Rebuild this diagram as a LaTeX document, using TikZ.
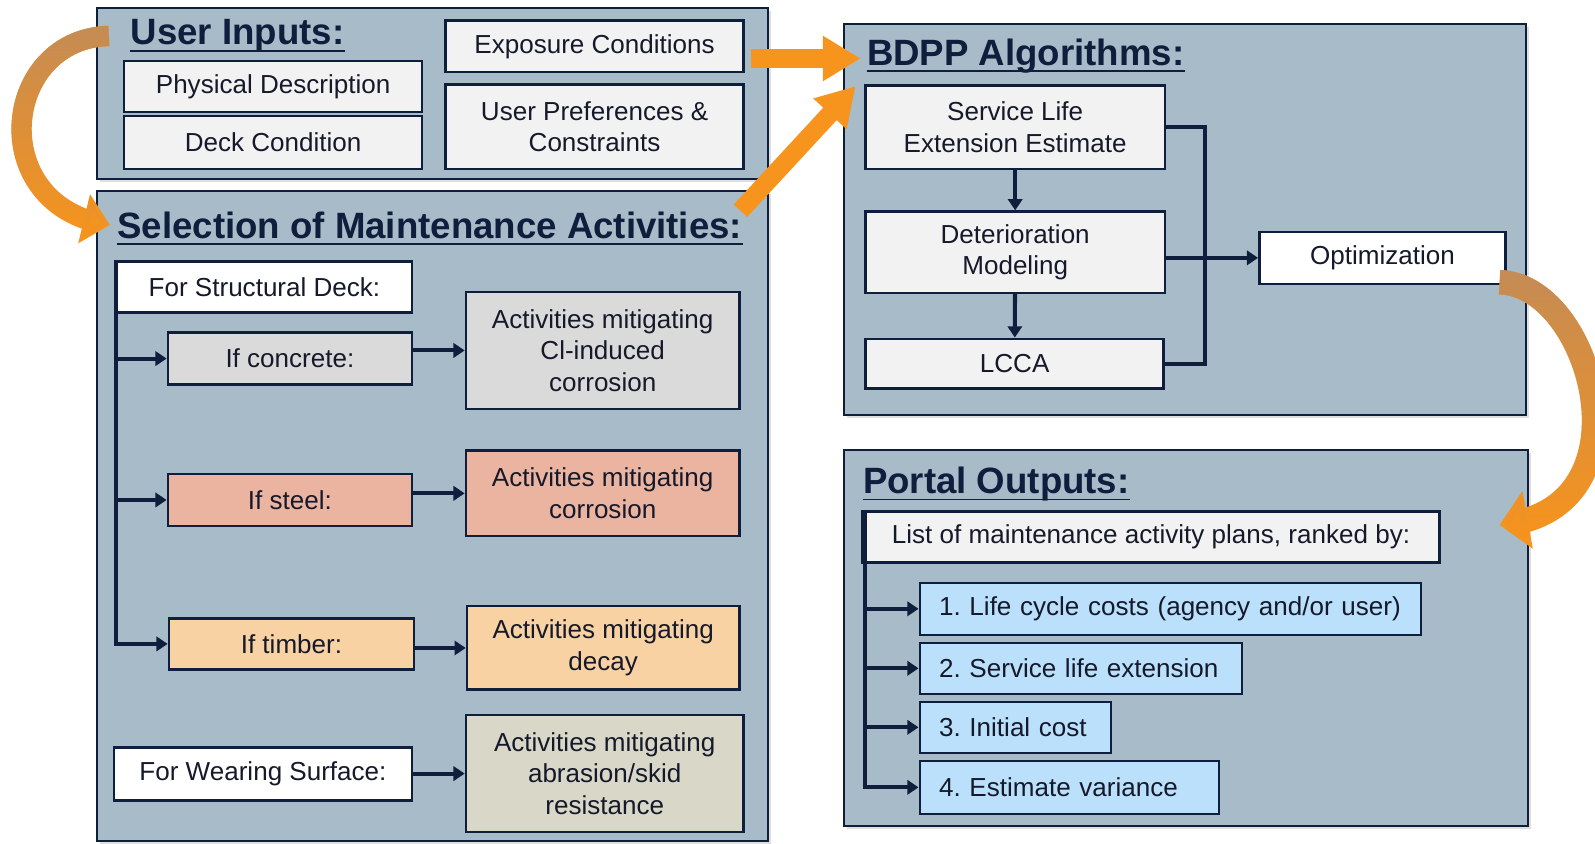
\documentclass[tikz,border=0pt]{standalone}
\usepackage{fontspec}
\setmainfont{Liberation Sans}
\usetikzlibrary{arrows.meta, bending, shadows, fadings}
\frenchspacing

\definecolor{navyc}{HTML}{0E1E3C}
\definecolor{textc}{HTML}{15192A}
\definecolor{panelc}{HTML}{A7BCC8}
\definecolor{boxc}{HTML}{F2F2F2}
\definecolor{concretec}{HTML}{DADADA}
\definecolor{steelc}{HTML}{EBB4A0}
\definecolor{timberc}{HTML}{F9D2A3}
\definecolor{wearc}{HTML}{D9D7C8}
\definecolor{itemc}{HTML}{BAE0FB}
\definecolor{orangec}{HTML}{F7941D}
\definecolor{brownc}{HTML}{C58C55}

\begin{document}
\begin{tikzpicture}[x=0.5pt, y=-0.5pt,
    panel/.style={draw=navyc, line width=1pt, fill=panelc, inner sep=0pt,
      drop shadow={opacity=0.25, shadow xshift=1.5pt, shadow yshift=-1.5pt}},
    title/.style={anchor=base west, inner sep=0pt, text=navyc,
      font=\fontsize{18pt}{20pt}\selectfont\bfseries},
    uline/.style={draw=navyc, line width=0.9pt},
    box/.style={draw=navyc, line width=1.2pt, fill=boxc, inner sep=0pt, align=center,
      text=textc, font=\fontsize{12.8pt}{15.5pt}\selectfont},
    wh/.style 2 args={minimum width=#1, minimum height=#2},
    item/.style={box, fill=itemc, anchor=west, inner xsep=9.5pt, text width=#1, align=left},
    bus/.style={draw=navyc, line width=2pt},
    tip/.style={-{Triangle[length=5.5pt,width=7pt]}},
    bigarrow/.style={draw=orangec, line width=#1},
    browntail/.style={postaction={draw=brownc, path fading=south}}
  ]
  \useasboundingbox (0,0) rectangle (1568,829);

  % Panels
  \node[panel, wh={330pt}{84pt}] (inpanel) at (425,92) {};
  \node[panel, wh={330pt}{319.5pt}] (selpanel) at (425,507.5) {};
  \node[panel, wh={335pt}{192pt}] (algpanel) at (1165,216) {};
  \node[panel, wh={336pt}{185pt}] (outpanel) at (1166,627) {};

  % Titles
  \node[title] (intitle) at (128,44) {User Inputs:};
  \node[title] (seltitle) at (115,234) {Selection of Maintenance Activities:};
  \node[title] (algtitle) at (852,64) {BDPP Algorithms:};
  \node[title] (outtitle) at (848,485) {Portal Outputs:};
  \foreach \t in {intitle,seltitle,algtitle,outtitle}
    \draw[uline] ([yshift=-3pt]\t.base west) -- ([yshift=-3pt]\t.base east);

  % User inputs
  \node[box, wh={146.5pt}{25pt}] (phys) at (268.5,85) {Physical Description};
  \node[box, wh={146.5pt}{26pt}] (deck) at (268.5,140) {Deck Condition};
  \node[box, wh={146.5pt}{25.5pt}] (expo) at (584.5,45.5) {Exposure Conditions};
  \node[box, wh={146.5pt}{41.5pt}] (pref) at (584.5,124.5) {User Preferences \&\\Constraints};

  % Selection of maintenance activities
  \node[box, fill=white, wh={145pt}{25pt}] (sdeck) at (260,282) {For Structural Deck:};
  \node[box, fill=concretec, wh={120pt}{25.5pt}] (concrete) at (285,352.5) {If concrete:};
  \node[box, fill=concretec, wh={134.5pt}{57.5pt}] (actcl) at (592.5,344.5) {Activities mitigating\\Cl-induced\\corrosion};
  \node[box, fill=steelc, wh={120pt}{25.5pt}] (steel) at (285,491.5) {If steel:};
  \node[box, fill=steelc, wh={134.5pt}{42pt}] (actcorr) at (592.5,485) {Activities mitigating\\corrosion};
  \node[box, fill=timberc, wh={120.5pt}{25pt}] (timber) at (286.5,633) {If timber:};
  \node[box, fill=timberc, wh={134pt}{41pt}] (actdecay) at (593,637) {Activities mitigating\\decay};
  \node[box, fill=white, wh={146.5pt}{26pt}] (wear) at (258.5,761) {For Wearing Surface:};
  \node[box, fill=wearc, wh={136.5pt}{57.5pt}] (actskid) at (594.5,760.5) {Activities mitigating\\abrasion/skid\\resistance};

  % BDPP algorithms
  \node[box, wh={147pt}{41pt}] (sle) at (998,125) {Service Life\\Extension Estimate};
  \node[box, wh={147pt}{40pt}] (det) at (998,248) {Deterioration\\Modeling};
  \node[box, wh={146.5pt}{24.5pt}] (lcca) at (997.5,357.5) {LCCA};
  \node[box, fill=white, wh={121pt}{25.5pt}] (opt) at (1359,253.5) {Optimization};

  % Portal outputs
  \node[box, wh={283.5pt}{25pt}] (list) at (1131.5,528) {List of maintenance activity plans, ranked by:};
  \node[item=227.5pt, minimum height=25.5pt] (rank1) at (903,598.5) {1. Life cycle costs (agency and/or user)};
  \node[item=139.5pt, minimum height=25pt] (rank2) at (903,657) {2. Service life extension};
  \node[item=75pt, minimum height=25pt] (rank3) at (903,715) {3. Initial cost};
  \node[item=128pt, minimum height=26pt] (rank4) at (903,774) {4. Estimate variance};

  % Connections, selection
  \draw[bus, tip] (sdeck.north west) |- (timber.west);
  \draw[bus, tip] (sdeck.south west) |- (concrete.west);
  \draw[bus, tip] (sdeck.south west) |- (steel.west);
  \draw[bus, tip] (concrete.east |- actcl.west) -- (actcl.west);
  \draw[bus, tip] (steel.east |- actcorr.west) -- (actcorr.west);
  \draw[bus, tip] (timber.east |- actdecay.west) -- (actdecay.west);
  \draw[bus, tip] (wear.east |- actskid.west) -- (actskid.west);

  % Connections, algorithms
  \draw[bus, tip] (sle) -- (det);
  \draw[bus, tip] (det) -- (lcca);
  \draw[bus] (sle.east) -- ++(38,0) |- (lcca.east);
  \draw[bus, tip] (det.east |- opt.west) -- (opt.west);

  % Connections, outputs
  \foreach \r in {rank1,rank2,rank3,rank4}
    \draw[bus, tip] ([xshift=2pt]list.north west) |- (\r.west);

  % Orange flow arrows
  \draw[bigarrow=10pt, browntail, -{Triangle[length=13pt,width=24pt]}]
    ([xshift=-10.5pt]intitle.west) .. controls +(-107,3) and +(-123,-17) .. ([xshift=-3.5pt]seltitle.west);
  \coordinate (a2s) at ([shift={(3pt,-6pt)}]expo.east);
  \draw[bigarrow=9pt, -{Triangle[length=18.5pt,width=21pt]}]
    (a2s) -- ([xshift=-3pt]a2s -| algtitle.west);
  \draw[bigarrow=9pt, -{Triangle[length=18.5pt,width=21pt]}]
    ([shift={(-1pt,7pt)}]seltitle.east) -- ([shift={(-5.5pt,-15pt)}]algtitle.west);
  \draw[bigarrow=12pt, browntail, -{Triangle[length=14pt,width=28pt]}]
    ([shift={(-3.5pt,-12pt)}]opt.east) .. controls +(92,2) and +(152,-12) .. ([shift={(29pt,6pt)}]list.east);
\end{tikzpicture}
\end{document}
